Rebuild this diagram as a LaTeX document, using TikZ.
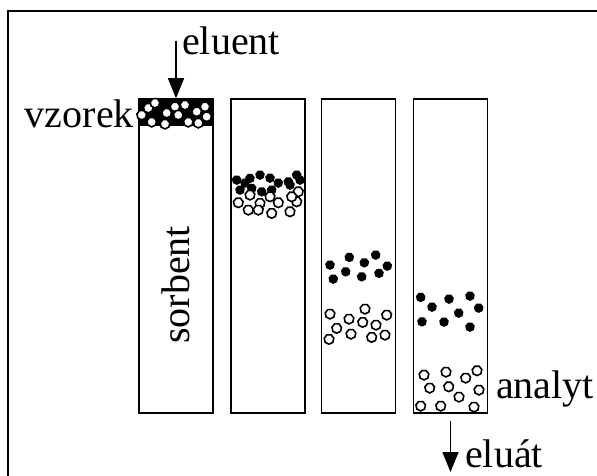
\documentclass[tikz,border=0pt]{standalone}
\usepackage{fontspec}
\newfontfamily\labelfont{Liberation Serif}
\usetikzlibrary{arrows.meta,positioning}
\newcommand{\grain}[3]{\path[#1] (#2,#3) +(90:4.9) -- +(141:4.9)
  -- +(193:4.9) -- +(244:4.9) -- +(296:4.9) -- +(347:4.9)
  -- +(39:4.9) -- cycle;}

\begin{document}
\begin{tikzpicture}[x=1pt, y=-1pt,
  column/.style={draw, line width=1.5pt, minimum width=74pt,
    minimum height=314pt, inner sep=0pt},
  tag/.style={font=\labelfont\fontsize{40}{46}\selectfont, inner sep=0pt},
  flow/.style={-{Triangle[length=20pt,width=16pt]}, line width=1.5pt},
  dark/.style={fill=black},
  pale/.style={fill=white, draw=black, line width=1.6pt}]
\useasboundingbox (0,0) rectangle (597,476);
\draw[line width=2pt] (8,500) -- (8,11) -- (620,11);

% the four columns, one time step each
\node (col1) [column] at (176,256) {};
\node (col2) [column] at (268,256) {};
\node (col3) [column] at (358.5,256) {};
\node (col4) [column] at (450.5,256) {};

% sample layer on top of the first column
\fill (139.75,99.75) rectangle (212.25,126);
\foreach \x/\y in {141.7/115, 148.3/108, 155/103, 151.7/122, 166.7/113,
    165/124, 175/106.7, 178.3/115, 185/105, 188.3/122, 196.7/111.7,
    205/106.7, 206.7/116.7, 198.3/123}
  \grain{pale}{\x}{\y};

% column 2: both bands still overlap
\foreach \x/\y in {236.7/180, 250/178.3, 260/175, 270/178, 278.3/183,
    288.3/181.7, 296.7/175, 240/190, 251.7/188.3, 261.7/191.7,
    271.7/190, 290/185, 300/180, 245/183}
  \grain{dark}{\x}{\y};
\foreach \x/\y in {238.3/202.7, 250/195, 248.3/210, 260/203.3, 270/196.7,
    278.3/202.7, 271.7/213.3, 290/211.7, 296.7/201.7, 298.3/191.7,
    258.3/210, 291.7/196.7}
  \grain{pale}{\x}{\y};

% column 3: bands separating
\foreach \x/\y in {330/265, 349.3/257.3, 364.3/262.7, 375.7/255, 387.3/266,
    345.7/271.7, 333.3/279, 361.7/276.7, 379/273.3}
  \grain{dark}{\x}{\y};
\foreach \x/\y in {330/314, 365/309, 386.7/315, 349/319, 362.7/322.3,
    376/325, 336.7/328.3, 351/334, 385/335, 329/339.3, 371.7/337.3}
  \grain{pale}{\x}{\y};

% column 4: analyte reaches the outlet
\foreach \x/\y in {420.7/297.3, 432/307, 449/299, 470/296, 478.7/308,
    458.7/313, 422/321.7, 444/322, 470/327}
  \grain{dark}{\x}{\y};
\foreach \x/\y in {424/375, 446/372, 465.7/378, 477/370.7, 429.7/388,
    448.7/386.7, 479/390, 459/397, 420.7/406, 440.7/406, 474/407}
  \grain{pale}{\x}{\y};

% labels
\node (vzorek) [tag, anchor=base east] at (134,128) {vzorek};
\node (eluent) [tag, anchor=base west] at (182,55) {eluent};
\node (sorbent) [tag, rotate=90] at (176,285) {sorbent};
\node (analyt) [tag, anchor=base west] at (496,398) {analyt};
\node (eluat) [tag, anchor=base west] at (465,467) {eluát};

% flow in and out
\coordinate (inlet) at (176,41);
\coordinate (outlet) at (450.5,472);
\draw[flow] (inlet) -- (col1.north);
\draw[flow] ([yshift=-7pt]col4.south) -- (outlet);
\end{tikzpicture}
\end{document}
